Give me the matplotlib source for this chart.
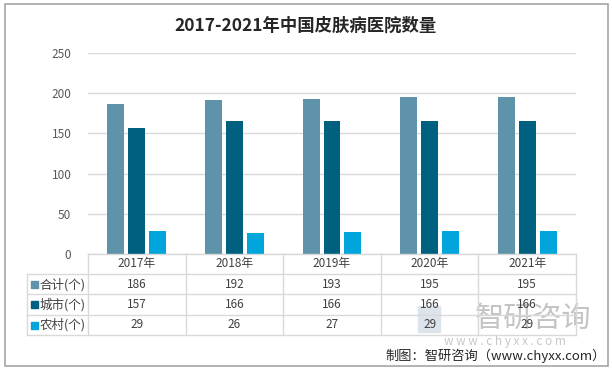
import matplotlib.pyplot as plt
from matplotlib.transforms import blended_transform_factory
from matplotlib.patches import Rectangle
import numpy as np

plt.rcParams['font.family'] = ['Noto Sans CJK SC', 'DejaVu Sans']

years = ['2017年', '2018年', '2019年', '2020年', '2021年']
series_names = ['合计(个)', '城市(个)', '农村(个)']
total = [186, 192, 193, 195, 195]
urban = [157, 166, 166, 166, 166]
rural = [29, 26, 27, 29, 29]
colors = ['#5F93A9', '#00607F', '#00A6DB']

W, H = 612, 368
fig = plt.figure(figsize=(W / 100, H / 100), dpi=100)

def fx(px):
    return px / W

def fy(py):
    return 1 - py / H

# plot area in pixel terms
x0, x1 = 88, 576
y_top, y_bot = 53, 254
ax = fig.add_axes([fx(x0), fy(y_bot), fx(x1) - fx(x0), fy(y_top) - fy(y_bot)])

x = np.arange(len(years)) + 0.5
bw = 0.174
step = 0.215
for i, vals in enumerate([total, urban, rural]):
    ax.bar(x + (i - 1) * step, vals, width=bw, color=colors[i], zorder=3)

ax.set_xlim(0, len(years))
ax.set_ylim(0, 250)
ax.set_yticks(range(0, 251, 50))
ax.tick_params(axis='y', length=0, pad=12, labelsize=8.5, labelcolor='#595959')
ax.set_xticks([])
ax.grid(axis='y', color='#D9D9D9', linewidth=1, zorder=0)
for s in ax.spines.values():
    s.set_visible(False)

# title
fig.text(0.5, fy(26), '2017-2021年中国皮肤病医院数量', ha='center', va='center',
         fontsize=12.5, fontweight='bold', color='#262626')

# watermark (drawn under the table text)
fig.add_artist(Rectangle((fx(418), fy(332)), fx(22), fy(0) - fy(26), color='#DCE3EA',
                         transform=fig.transFigure, zorder=0.5))
fig.text(fx(533), fy(319), '智研咨询', ha='center', va='center', fontsize=21,
         color='#C4C4C4', zorder=0.5)
fig.text(fx(505), fy(341), 'w w w . c h y x x . c o m', ha='center', va='center',
         fontsize=8.5, color='#C8C8C8', zorder=0.5)

# data table below the axis
tr = blended_transform_factory(ax.transData, fig.transFigure)
line_c = '#D9D9D9'
row_lines = [254, 274, 294, 315, 335]
tbl_left = 27
for j, py in enumerate(row_lines):
    left = x0 if j == 0 else tbl_left
    fig.add_artist(plt.Line2D([fx(left), fx(x1)], [fy(py), fy(py)], color=line_c, lw=1))
for k in range(len(years) + 1):
    fig.add_artist(plt.Line2D([fx(x0 + k * (x1 - x0) / len(years))] * 2,
                              [fy(254), fy(335)], color=line_c, lw=1))
fig.add_artist(plt.Line2D([fx(tbl_left)] * 2, [fy(274), fy(335)], color=line_c, lw=1))

row_centers = [264, 284.5, 304.5, 325]
for i, yr in enumerate(years):
    fig.text(x[i], fy(row_centers[0]), yr, transform=tr, ha='center', va='center',
             fontsize=8.5, color='#404040', zorder=5)
for r, vals in enumerate([total, urban, rural]):
    cy = row_centers[r + 1]
    for i, v in enumerate(vals):
        fig.text(x[i], fy(cy), str(v), transform=tr, ha='center', va='center',
                 fontsize=8.5, color='#404040', zorder=5)
    fig.add_artist(Rectangle((fx(31), fy(cy + 3.5)), fx(7), fy(0) - fy(7),
                             color=colors[r], transform=fig.transFigure))
    fig.text(fx(40), fy(cy), series_names[r], ha='left', va='center',
             fontsize=9, color='#404040')

# source
fig.text(fx(606), fy(356), '制图：智研咨询（www.chyxx.com）', ha='right', va='center',
         fontsize=9.5, color='#262626')

# outer border
fig.add_artist(Rectangle((fx(4.5), fy(365.5)), fx(603), fy(0) - fy(362), fill=False,
                         edgecolor='#A6A6A6', lw=1.2, transform=fig.transFigure))

fig.savefig('out.png', dpi=100)
